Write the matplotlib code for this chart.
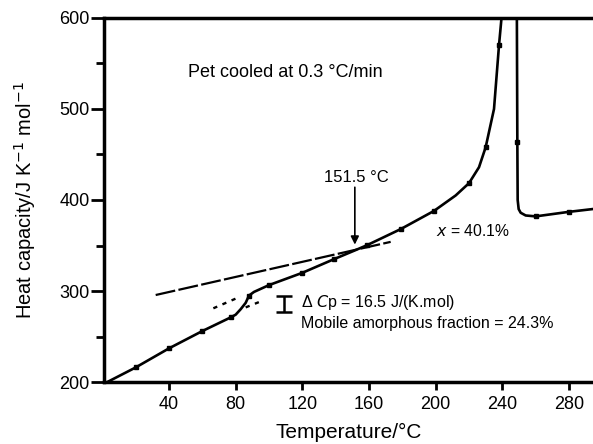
import numpy as np
import matplotlib
matplotlib.use("Agg")
import matplotlib.pyplot as plt

plt.rcParams['font.family'] = ['Liberation Sans', 'DejaVu Sans']

# measured heat capacity curve (cooling at 0.3 C/min)
temp = [3, 20, 40, 60, 77, 80, 83, 86, 88, 91, 100, 120, 139, 152, 159, 179, 199,
        212, 220, 226, 230, 235, 238, 239.5, 241, 248.6, 249, 249.2, 249.8, 251,
        254, 260, 280, 294]
cp = [200, 216, 237, 256, 271, 274, 280, 287, 295, 299, 306.5, 320, 335, 345, 350.5,
      368, 388, 405, 418.5, 436, 458, 500, 570, 600, 660, 660, 464, 400, 390, 386,
      383, 382, 387, 390]
marker_idx = [1, 2, 3, 4, 8, 10, 11, 12, 14, 15, 16, 18, 20, 22, 26, 31, 32]

# tangent lines
tan_t = [32, 173]
tan_cp = [295.6, 354]
liq_dot_t = [66.6, 83]
liq_dot_cp = [281, 294]
glass_dot_t = [86, 95.6]
glass_dot_cp = [282, 289]

# delta Cp bar
dcp_t = 109
dcp_low, dcp_high = 276.5, 294

tg = 151.5

fig = plt.figure(figsize=(5.93, 4.44), dpi=100)
ax = fig.add_axes([0.1754, 0.1396, 0.8246, 0.8199])

ax.plot(temp, cp, color='black', lw=1.9, marker='s', ms=3.2,
        markevery=marker_idx, solid_joinstyle='round')
ax.plot(tan_t, tan_cp, color='black', lw=1.6, dashes=(9, 1.5))
ax.plot(liq_dot_t, liq_dot_cp, color='black', lw=1.7, dashes=(1.8, 2.4))
ax.plot(glass_dot_t, glass_dot_cp, color='black', lw=1.7, dashes=(1.8, 2.4))

ax.errorbar([dcp_t], [(dcp_low + dcp_high) / 2], yerr=[(dcp_high - dcp_low) / 2],
            color='black', lw=1.8, capsize=5.5, capthick=1.8)

ax.annotate('', xy=(tg, 351), xytext=(tg, 414),
            arrowprops=dict(arrowstyle='-|>', color='black', lw=1.2,
                            mutation_scale=12, shrinkA=0, shrinkB=0))
ax.text(tg + 1, 417, '151.5 °C', ha='center', va='bottom', fontsize=12)
ax.text(51.5, 540, 'Pet cooled at 0.3 °C/min', ha='left', va='center', fontsize=13)
ax.text(200, 366, '$x$ = 40.1%', ha='left', va='center', fontsize=11.3)
ax.text(119, 287, 'Δ $C$p = 16.5 J/(K.mol)', ha='left', va='center', fontsize=11.5)
ax.text(119, 264.5, 'Mobile amorphous fraction = 24.3%', ha='left', va='center',
        fontsize=11.5)

ax.set_xlim(1, 294.4)
ax.set_ylim(200, 600)
ax.set_xticks([40, 80, 120, 160, 200, 240, 280])
ax.set_yticks([200, 300, 400, 500, 600])
ax.set_yticks([250, 350, 450, 550], minor=True)
ax.tick_params(axis='both', direction='out', width=2, labelsize=13)
ax.tick_params(axis='y', which='major', length=9.5, pad=1)
ax.tick_params(axis='y', which='minor', length=6, width=2)
ax.tick_params(axis='x', length=6, pad=4)
for s in ['left', 'bottom', 'top']:
    ax.spines[s].set_linewidth(2.5)
ax.spines['right'].set_visible(False)

ax.set_xlabel('Temperature/°C', fontsize=15)
ax.set_ylabel('Heat capacity/J K$^{-1}$ mol$^{-1}$', fontsize=14.5)
ax.yaxis.set_label_coords(-0.135, 0.5)
ax.xaxis.set_label_coords(0.5, -0.113)

fig.savefig('out.png', dpi=100)
